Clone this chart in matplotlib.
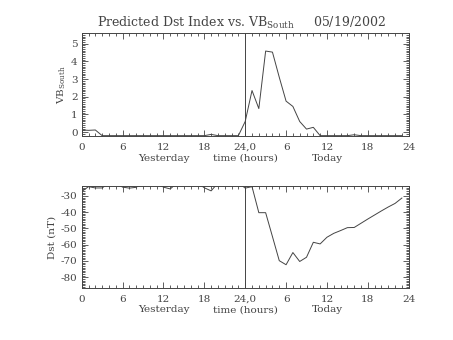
import numpy as np
import matplotlib
matplotlib.use("Agg")
import matplotlib.pyplot as plt
from matplotlib.ticker import MultipleLocator, FixedLocator

# hourly values, yesterday 0h .. today 23h
hours = list(range(48))
vb_south = [0.12, 0.1, 0.12, -0.2, -0.2, -0.2, -0.2, -0.2, -0.2, -0.2,
            -0.2, -0.2, -0.2, -0.2, -0.2, -0.2, -0.2, -0.2, -0.2, -0.13,
            -0.2, -0.2, -0.2, -0.2, 0.6, 2.35, 1.33, 4.58, 4.52, 3.1,
            1.75, 1.45, 0.6, 0.17, 0.27, -0.2, -0.2, -0.2, -0.2, -0.2,
            -0.15, -0.2, -0.2, -0.2, -0.2, -0.2, -0.2, -0.2]
dst = [-27.3, -24.3, -25.1, -25.1, -22, -22, -24.6, -25.2, -24.7, -22,
       -22, -22, -24.6, -25.7, -22, -22, -22, -22, -25.0, -26.9,
       -22, -22, -22, -22, -25.2, -24.3, -40.3, -40.3, -55, -69.8,
       -72.3, -64.8, -70.3, -67.7, -58.5, -59.5, -55.4, -53.0, -51.3, -49.5,
       -49.4, -46.8, -44.2, -41.7, -39.2, -36.8, -34.6, -31.3]
xtick_vals = [0, 6, 12, 18, 24, 30, 36, 42, 48]
xtick_labels = ['0', '6', '12', '18', '24,0', '6', '12', '18', '24']

plt.rcParams['font.family'] = ['DejaVu Serif']
plt.rcParams['mathtext.fontset'] = 'dejavuserif'
plt.rcParams['axes.unicode_minus'] = False
plt.rcParams['font.size'] = 7.5
ink = '#444444'

fig = plt.figure(figsize=(4.53, 3.4), dpi=100)
ax1 = fig.add_axes([81.7/453, 1-136/340, 327/453, 103/340])
ax2 = fig.add_axes([81.7/453, 1-288/340, 327/453, 102/340])

def style(ax):
    ax.set_xlim(0, 48)
    ax.xaxis.set_major_locator(FixedLocator(xtick_vals))
    ax.set_xticklabels(xtick_labels, color=ink)
    ax.xaxis.set_minor_locator(MultipleLocator(1))
    ax.tick_params(which='both', direction='in', top=True, right=True, colors=ink,
                   width=0.6, labelcolor=ink)
    ax.tick_params(which='major', length=4)
    ax.tick_params(axis='x', which='major', pad=5)
    ax.tick_params(axis='y', which='major', pad=3)
    ax.tick_params(which='minor', length=2)
    for s in ax.spines.values():
        s.set_color(ink)
        s.set_linewidth(0.7)
    ax.axvline(24, color=ink, lw=0.7)
    for xv, txt in [(12, 'Yesterday'), (24, 'time (hours)'), (36, 'Today')]:
        ax.text(xv, -0.24, txt, transform=ax.get_xaxis_transform(),
                ha='center', va='baseline', color=ink)

ax1.plot(hours, vb_south, color=ink, lw=0.7)
ax1.set_ylim(-0.22, 5.6)
ax1.yaxis.set_major_locator(MultipleLocator(1))
ax1.yaxis.set_minor_locator(MultipleLocator(0.1))
ax1.set_ylabel(r'VB$_{\mathrm{South}}$', color=ink, labelpad=2)
style(ax1)

ax2.plot(hours, dst, color=ink, lw=0.7)
ax2.set_ylim(-86.6, -23.9)
ax2.yaxis.set_major_locator(MultipleLocator(10))
ax2.yaxis.set_minor_locator(MultipleLocator(1))
ax2.set_ylabel('Dst (nT)', color=ink, labelpad=3)
style(ax2)

fig.text(0.533, 1-23/340, r'Predicted Dst Index vs. VB$_{\mathrm{South}}$     05/19/2002',
         ha='center', va='center', fontsize=9, color=ink)

fig.savefig('out.png', dpi=100)
